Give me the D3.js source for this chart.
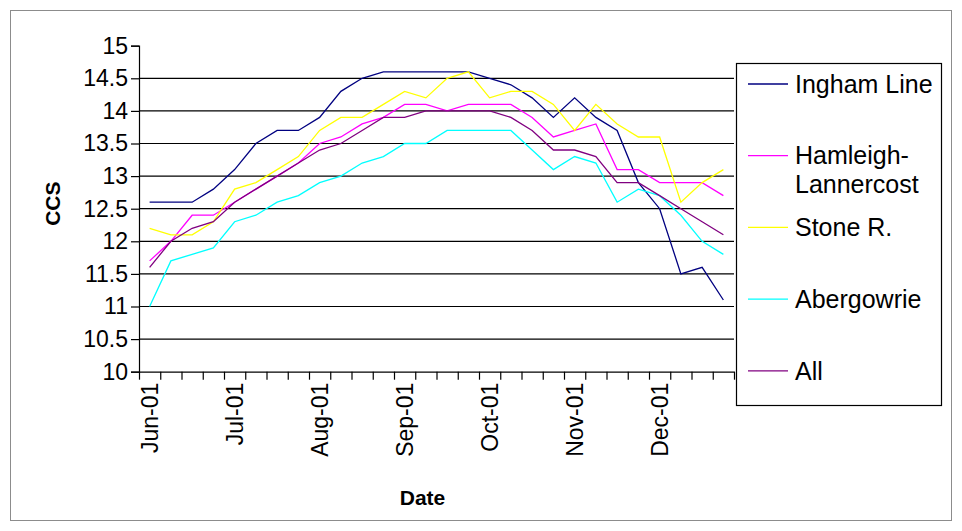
<!DOCTYPE html>
<html>
<head>
<meta charset="utf-8">
<script src="https://cdn.jsdelivr.net/npm/d3@7"></script>
<style>
  body { margin: 0; background: #fff; }
  svg { display: block; font-family: "Liberation Sans", Arial, sans-serif; }
</style>
</head>
<body>
<div id="graph"></div>
<script>
// Week labels (only every 4th week is labelled on the axis)
var dateLabels = ["Jun-01", "", "", "", "Jul-01", "", "", "", "Aug-01", "", "", "",
                  "Sep-01", "", "", "", "Oct-01", "", "", "", "Nov-01", "", "", "",
                  "Dec-01", "", "", ""];

// CCS values per week
var ingham    = [12.6, 12.6, 12.6, 12.8, 13.1, 13.5, 13.7, 13.7, 13.9, 14.3, 14.5, 14.6, 14.6, 14.6,
                 14.6, 14.6, 14.5, 14.4, 14.2, 13.9, 14.2, 13.9, 13.7, 12.9, 12.5, 11.5, 11.6, 11.1];
var hamleigh  = [11.7, 12.0, 12.4, 12.4, 12.6, 12.8, 13.0, 13.2, 13.5, 13.6, 13.8, 13.9, 14.1, 14.1,
                 14.0, 14.1, 14.1, 14.1, 13.9, 13.6, 13.7, 13.8, 13.1, 13.1, 12.9, 12.9, 12.9, 12.7];
var stoneR    = [12.2, 12.1, 12.1, 12.3, 12.8, 12.9, 13.1, 13.3, 13.7, 13.9, 13.9, 14.1, 14.3, 14.2,
                 14.5, 14.6, 14.2, 14.3, 14.3, 14.1, 13.7, 14.1, 13.8, 13.6, 13.6, 12.6, 12.9, 13.1];
var abergowrie = [11.0, 11.7, 11.8, 11.9, 12.3, 12.4, 12.6, 12.7, 12.9, 13.0, 13.2, 13.3, 13.5, 13.5,
                 13.7, 13.7, 13.7, 13.7, 13.4, 13.1, 13.3, 13.2, 12.6, 12.8, 12.7, 12.4, 12.0, 11.8];
var allAreas  = [11.6, 12.0, 12.2, 12.3, 12.6, 12.8, 13.0, 13.2, 13.4, 13.5, 13.7, 13.9, 13.9, 14.0,
                 14.0, 14.0, 14.0, 13.9, 13.7, 13.4, 13.4, 13.3, 12.9, 12.9, 12.7, 12.5, 12.3, 12.1];

var seriesNames = ["Ingham Line", "Hamleigh-Lannercost", "Stone R.", "Abergowrie", "All"];
var yTicks = [10, 10.5, 11, 11.5, 12, 12.5, 13, 13.5, 14, 14.5, 15];

var series = [
  { name: seriesNames[0], label: ["Ingham Line"], values: ingham, color: "#000080" },
  { name: seriesNames[1], label: ["Hamleigh-", "Lannercost"], values: hamleigh, color: "#ff00ff" },
  { name: seriesNames[2], label: ["Stone R."], values: stoneR, color: "#ffff00" },
  { name: seriesNames[3], label: ["Abergowrie"], values: abergowrie, color: "#00ffff" },
  { name: seriesNames[4], label: ["All"], values: allAreas, color: "#800080" }
];

// Canvas / plot dimensions
var W = 962, H = 531;
var margin = { top: 45.7, left: 139, right: 228, bottom: 159.3 },
    width = W - margin.left - margin.right,
    height = H - margin.top - margin.bottom;

var svg = d3.select("#graph").append("svg")
    .attr("width", W)
    .attr("height", H);

// Chart area border
svg.append("rect")
    .attr("x", 10.5).attr("y", 10.5)
    .attr("width", 941).attr("height", 510)
    .attr("fill", "#fff")
    .attr("stroke", "#8c8c8c")
    .attr("stroke-width", 1);

var g = svg.append("g")
    .attr("transform", "translate(" + margin.left + "," + margin.top + ")");

// Scales
var x = d3.scaleBand().domain(d3.range(dateLabels.length)).range([0, width]).padding(0);
var xEdge = d3.scaleLinear().domain([0, dateLabels.length]).range([0, width]);
var y = d3.scaleLinear().domain([10, 15]).range([height, 0]);

// Gridlines
g.append("g")
  .selectAll("line")
  .data(yTicks.filter(function(d) { return d > 10 && d < 15; }))
  .enter().append("line")
    .attr("x1", 0).attr("x2", width)
    .attr("y1", function(d) { return y(d); })
    .attr("y2", function(d) { return y(d); })
    .attr("stroke", "#000")
    .attr("stroke-width", 1.2);

// Y axis
var yAxis = g.append("g")
    .call(d3.axisLeft(y).tickValues(yTicks).tickSize(8).tickPadding(3)
      .tickFormat(function(d) { return String(d); }));
yAxis.selectAll("text").attr("font-size", 23).attr("fill", "#000")
    .attr("font-family", "Liberation Sans, Arial, sans-serif");
yAxis.selectAll("line, path").attr("stroke", "#000").attr("stroke-width", 1.2);

// X axis: ticks at category boundaries
var xAxis = g.append("g")
    .attr("transform", "translate(0," + height + ")")
    .call(d3.axisBottom(xEdge).tickValues(d3.range(dateLabels.length + 1))
      .tickSize(8).tickSizeOuter(0).tickFormat(""));
xAxis.selectAll("line, path").attr("stroke", "#000").attr("stroke-width", 1.2);

// X labels, rotated
g.append("g")
  .selectAll("text")
  .data(dateLabels)
  .enter().append("text")
    .attr("transform", function(d, i) {
      return "translate(" + (x(i) + x.bandwidth() / 2) + "," + (height + 11) + ") rotate(-90)";
    })
    .attr("text-anchor", "end")
    .attr("dy", "0.35em")
    .attr("font-size", 23)
    .text(function(d) { return d; });

// Axis titles
svg.append("text")
    .attr("transform", "translate(60," + (margin.top + height / 2 - 5) + ") rotate(-90)")
    .attr("text-anchor", "middle")
    .attr("font-size", 21)
    .attr("font-weight", "bold")
    .text("CCS");

svg.append("text")
    .attr("x", margin.left + width / 2 - 14)
    .attr("y", 505)
    .attr("text-anchor", "middle")
    .attr("font-size", 21)
    .attr("font-weight", "bold")
    .text("Date");

// Lines
var line = d3.line()
    .x(function(d, i) { return x(i) + x.bandwidth() / 2; })
    .y(function(d) { return y(d); });

g.selectAll(".series")
  .data(series)
  .enter().append("path")
    .attr("class", "series")
    .attr("fill", "none")
    .attr("stroke", function(d) { return d.color; })
    .attr("stroke-width", 1.3)
    .attr("d", function(d) { return line(d.values); });

// Legend
var legend = svg.append("g").attr("transform", "translate(736,63)");
legend.append("rect")
    .attr("x", 0.5).attr("y", 0.5)
    .attr("width", 205).attr("height", 342)
    .attr("fill", "#fff")
    .attr("stroke", "#000")
    .attr("stroke-width", 1.2);

var item = legend.selectAll(".item")
  .data(series)
  .enter().append("g")
    .attr("class", "item")
    .attr("transform", function(d, i) { return "translate(0," + (21 + i * 71.7) + ")"; });

item.append("line")
    .attr("x1", 12).attr("x2", 52)
    .attr("stroke", function(d) { return d.color; })
    .attr("stroke-width", 1.3);

item.each(function(d) {
  d3.select(this).selectAll("text")
    .data(d.label)
    .enter().append("text")
      .attr("x", 59)
      .attr("y", function(t, j) { return j * 29; })
      .attr("dy", "0.35em")
      .attr("font-size", 25)
      .text(function(t) { return t; });
});
</script>
</body>
</html>
